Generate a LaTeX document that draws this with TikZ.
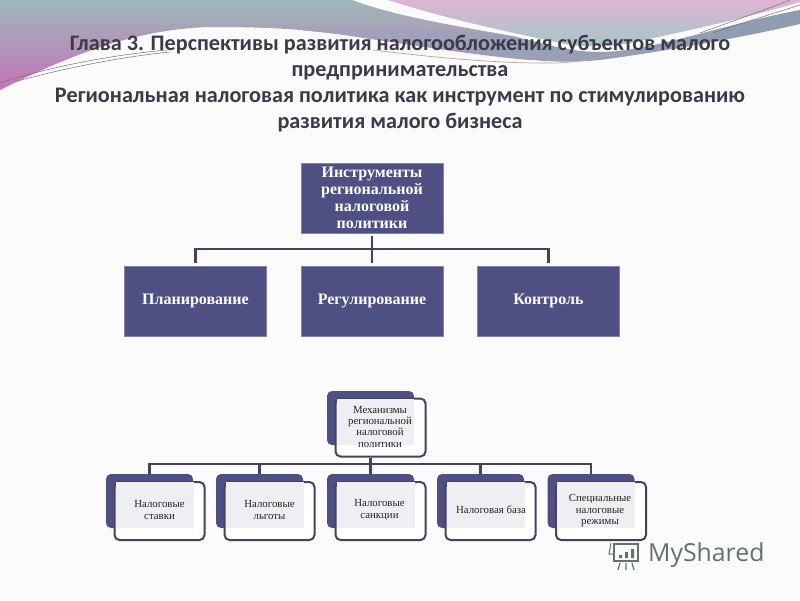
\documentclass[tikz,border=0pt]{standalone}
\usepackage{fontspec}
\setmainfont{Liberation Serif}
\newfontfamily\titlefont{Carlito}
\newfontfamily\markfont{Open Sans}
\definecolor{boxblue}{HTML}{4E4F82}
\definecolor{linedark}{HTML}{43435F}
\definecolor{inner}{HTML}{EEEEF3}
\definecolor{titlecol}{HTML}{3A3A48}
\definecolor{markcol}{HTML}{5F7270}
\definecolor{wteal}{HTML}{9DB8B8}
\definecolor{wgray}{HTML}{A3A3BC}
\definecolor{wpink}{HTML}{C474B8}
\definecolor{rpink}{HTML}{DDB4D4}
\definecolor{rteal}{HTML}{A8C6C8}
\definecolor{bandpink}{HTML}{C79CC4}
\definecolor{bandgray}{HTML}{8E9CB0}
\tikzset{
 x=1pt,y=-1pt,
 titletext/.style={font=\titlefont\bfseries\fontsize{22.2}{26.3}\selectfont,text=titlecol,align=center,inner sep=0pt},
 bigbox/.style={rectangle,fill=boxblue,draw=boxblue!70!white,line width=.5pt,minimum width=142pt,minimum height=70pt,inner sep=0pt,text=white,align=center,font=\bfseries\fontsize{16}{17}\selectfont},
 conn/.style={draw=linedark,line width=2.5pt},
 backbox/.style={rectangle,rounded corners=5pt,fill=boxblue,minimum width=87pt,minimum height=54pt,inner sep=0pt},
 frontbox/.style={rectangle,rounded corners=5pt,fill=white,draw=linedark,line width=2pt,minimum width=90pt,minimum height=58pt,inner sep=0pt},
 innerbox/.style={rectangle,fill=inner,inner sep=0pt,minimum width=78pt,minimum height=46pt},
 smalltext/.style={align=center,inner sep=0pt,text=black!85,font=\fontsize{10.8}{11.3}\selectfont},
 streak/.style={draw=black!55,line width=.5pt},
}
\begin{document}
\begin{tikzpicture}
\useasboundingbox (0,0) rectangle (800,600);
\fill[black!1.5] (0,0) rectangle (800,600);
% left wave
\begin{scope}
\clip (0,0) -- (352,0) .. controls (400,18) and (470,28) .. (517,37)
  -- (530,60) .. controls (470,55) and (380,40) .. (330,33)
  .. controls (290,28) and (250,27) .. (217,27)
  .. controls (140,27) and (70,55) .. (0,90) -- cycle;
\shade[top color=wteal,middle color=wgray,bottom color=wpink] (0,0) rectangle (800,90);
\end{scope}
% right wave
\begin{scope}
\clip (388,0) -- (800,0) -- (800,2) .. controls (740,20) and (680,32) .. (640,41)
  .. controls (610,48) and (585,48) .. (560,43)
  .. controls (510,32) and (450,20) .. (388,0) -- cycle;
\shade[top color=rpink,bottom color=rteal] (388,0) rectangle (800,45);
\end{scope}
% lower band
\shade[left color=wgray,middle color=bandpink,right color=bandgray]
  (300,30) .. controls (350,29) and (470,28) .. (517,37)
  .. controls (545,44) and (570,52) .. (600,52)
  .. controls (650,52) and (720,25) .. (800,10)
  -- (800,24) .. controls (740,38) and (660,52) .. (600,60)
  .. controls (570,63) and (540,62) .. (500,56)
  .. controls (450,48) and (380,38) .. (300,30) -- cycle;
% thin streaks
\draw[streak] (0,83) .. controls (40,70) and (100,56) .. (167,50);
\draw[streak] (14,82) .. controls (50,72) and (110,58) .. (170,52);
\draw[draw=brown!60!black!50,line width=.7pt] (373,50) .. controls (430,57) and (500,64) .. (557,63) .. controls (580,62) and (600,58) .. (617,53);
\draw[streak] (700,33) .. controls (730,22) and (765,10) .. (790,0);
\draw[streak] (713,33) .. controls (745,22) and (775,13) .. (800,5);
% title
\node[titletext] (title) at (400,83.6) {Глава 3. Перспективы развития налогообложения субъектов малого\\предпринимательства\\Региональная налоговая политика как инструмент по стимулированию\\развития малого бизнеса};
% upper chart
\node[bigbox,minimum height=70pt] (t) at (372,198) {};
\node[text=white,align=center,inner sep=0pt,font=\bfseries\fontsize{16}{16.8}\selectfont] (tt) at (372,198) {Инструменты\\региональной\\налоговой\\политики};
\node[bigbox] (p) at (195.5,301) {Планирование};
\node[bigbox] (r) at (372,301) {Регулирование};
\node[bigbox] (k) at (548.5,301) {Контроль};
\coordinate (bus) at (372,249);
\draw[conn,shorten >=3pt,shorten <=3pt] (t.south) -- (r.north);
\draw[conn,shorten <=3pt] (p.north) |- (bus);
\draw[conn,shorten <=3pt] (k.north) |- (bus);
% lower chart
\node[backbox] (mb) at (370.5,418) {};
\node[frontbox] (mf) at (380.5,427.5) {};
\node[innerbox,minimum width=77pt] (mi) at (375,421.5) {};
\node[smalltext] (mt) at (380,426.7) {Механизмы\\региональной\\налоговой\\политики};
\foreach \n/\bx/\fx in {a/149.5/159.5,b/259.5/269.5,c/370.5/380.5,d/480.5/490.5,e/591/601}{
  \node[backbox] (\n b) at (\bx,501) {};
  \node[frontbox] (\n f) at (\fx,511) {};
  \node[innerbox] (\n i) at (\bx+5,505) {};
}
\node[smalltext] (at) at (159.5,510) {Налоговые\\ставки};
\node[smalltext] (bt) at (269.5,510) {Налоговые\\льготы};
\node[smalltext] (ct) at (379.5,510) {Налоговые\\санкции};
\node[smalltext] (dt) at (491,510) {Налоговая база};
\node[smalltext] (et) at (600,510.7) {Специальные\\налоговые\\режимы};
\coordinate (lbus) at (370.5,464);
\draw[conn] (cb.north) -- (cb.north |- mf.south);
\draw[conn] (ab.north) |- (lbus);
\draw[conn] (bb.north) -- (bb.north |- lbus);
\draw[conn] (db.north) -- (db.north |- lbus);
\draw[conn] (eb.north) |- (lbus);
% watermark
\draw[draw=markcol,line width=1.6pt] (614,544) rectangle (638,561);
\draw[draw=markcol,line width=1pt] (611,543) -- (609,554) -- (614,554);
\fill[markcol] (619,555) rectangle (622,558) (625,552) rectangle (628,558) (631,549) rectangle (634,558);
\draw[draw=markcol,line width=1.2pt] (620,563) -- (618,570) (626,563) -- (626,570) (632,563) -- (634,570);
\node[font=\markfont\fontsize{24.8}{25}\selectfont,text=markcol,anchor=west,inner sep=0pt] (mark) at (648,555) {MyShared};
\end{tikzpicture}
\end{document}
